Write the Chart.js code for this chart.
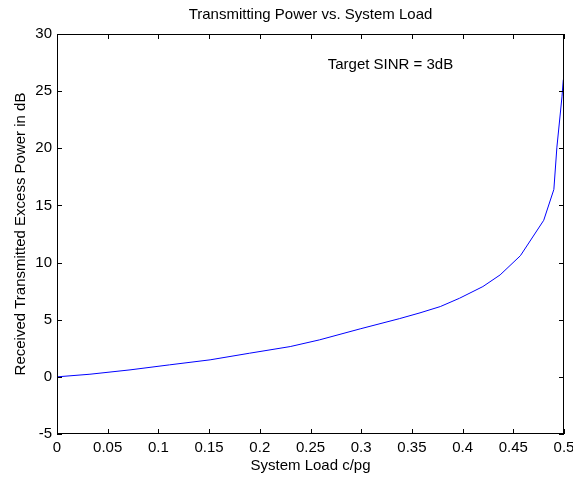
<!DOCTYPE html>
<html>
<head>
<meta charset="utf-8">
<script src="https://cdn.jsdelivr.net/npm/chart.js@4.4.0/dist/chart.umd.min.js"></script>
<style>
  html, body { margin: 0; padding: 0; background: #fff; }
</style>
</head>
<body>
<canvas id="power" width="573" height="478"></canvas>
<script>
// values
const loadX = [0, 0.0325, 0.072, 0.111, 0.151, 0.19, 0.23, 0.259, 0.299, 0.338, 0.358, 0.378, 0.397, 0.42, 0.437, 0.457, 0.48, 0.49, 0.493, 0.498, 0.4993]
const powerDb = [0, 0.23, 0.61, 1.05, 1.49, 2.07, 2.65, 3.24, 4.2, 5.1, 5.6, 6.15, 6.88, 7.9, 8.92, 10.6, 13.7, 16.4, 20.1, 24.5, 26.0]
const xTicks = { min: 0, max: 0.5, step: 0.05 }
const yTicks = { min: -5, max: 30, step: 5 }
const titleText = 'Transmitting Power vs. System Load'
const note = { x: 0.267, y: 27.3, text: 'Target SINR = 3dB' }

const FONT = 'Liberation Sans, Arial, Helvetica, sans-serif'
const SIZE = 15

// matlab-ish box with inward ticks, title over the axes, text note
const boxPlugin = {
  id: 'box',
  afterDraw (chart) {
    const { ctx, chartArea: a, scales } = chart
    ctx.save()
    ctx.strokeStyle = '#000'
    ctx.lineWidth = 1
    ctx.strokeRect(a.left + 0.5, a.top + 0.5, a.right - a.left - 1, a.bottom - a.top - 1)
    ctx.beginPath()
    scales.x.ticks.forEach(t => {
      const px = Math.round(scales.x.getPixelForValue(t.value)) + 0.5
      ctx.moveTo(px, a.bottom); ctx.lineTo(px, a.bottom - 5)
      ctx.moveTo(px, a.top); ctx.lineTo(px, a.top + 5)
    })
    scales.y.ticks.forEach(t => {
      const py = Math.round(scales.y.getPixelForValue(t.value)) + 0.5
      ctx.moveTo(a.left, py); ctx.lineTo(a.left + 5, py)
      ctx.moveTo(a.right, py); ctx.lineTo(a.right - 5, py)
    })
    ctx.stroke()

    ctx.fillStyle = '#000'
    ctx.font = SIZE + 'px ' + FONT
    ctx.textBaseline = 'middle'
    ctx.textAlign = 'center'
    ctx.fillText(titleText, (a.left + a.right) / 2, 15)
    ctx.textAlign = 'left'
    ctx.fillText(note.text, scales.x.getPixelForValue(note.x), scales.y.getPixelForValue(note.y))
    ctx.restore()
  }
}

new Chart(document.getElementById('power'), {
  type: 'line',
  data: {
    datasets: [{
      data: loadX.map((x, i) => ({ x: x, y: powerDb[i] })),
      borderColor: '#0000ff',
      borderWidth: 1,
      pointRadius: 0,
      tension: 0,
      fill: false
    }]
  },
  options: {
    responsive: false,
    animation: false,
    layout: { padding: { left: 0, right: 9, top: 34, bottom: 0 } },
    plugins: {
      legend: { display: false },
      tooltip: { enabled: false },
      title: { display: false }
    },
    scales: {
      x: {
        type: 'linear',
        min: xTicks.min,
        max: xTicks.max,
        grid: { display: false, drawTicks: false },
        border: { display: false },
        ticks: {
          stepSize: xTicks.step,
          color: '#000',
          padding: 5,
          maxRotation: 0,
          autoSkip: false,
          font: { family: FONT, size: SIZE },
          callback: v => String(+v.toFixed(2))
        },
        title: {
          display: true,
          text: 'System Load c/pg',
          color: '#000',
          font: { family: FONT, size: SIZE },
          padding: { top: 0, bottom: 3 }
        },
        afterFit: s => { s.height = 44; s.paddingLeft = 0; s.paddingRight = 0 }
      },
      y: {
        min: yTicks.min,
        max: yTicks.max,
        grid: { display: false, drawTicks: false },
        border: { display: false },
        ticks: {
          stepSize: yTicks.step,
          color: '#000',
          padding: 5,
          font: { family: FONT, size: SIZE }
        },
        title: {
          display: true,
          text: 'Received Transmitted Excess Power in dB',
          color: '#000',
          font: { family: FONT, size: SIZE },
          padding: { top: 12, bottom: 0 }
        },
        afterFit: s => { s.width = 57; s.paddingTop = 0; s.paddingBottom = 0 }
      }
    }
  },
  plugins: [boxPlugin]
})
</script>
</body>
</html>
